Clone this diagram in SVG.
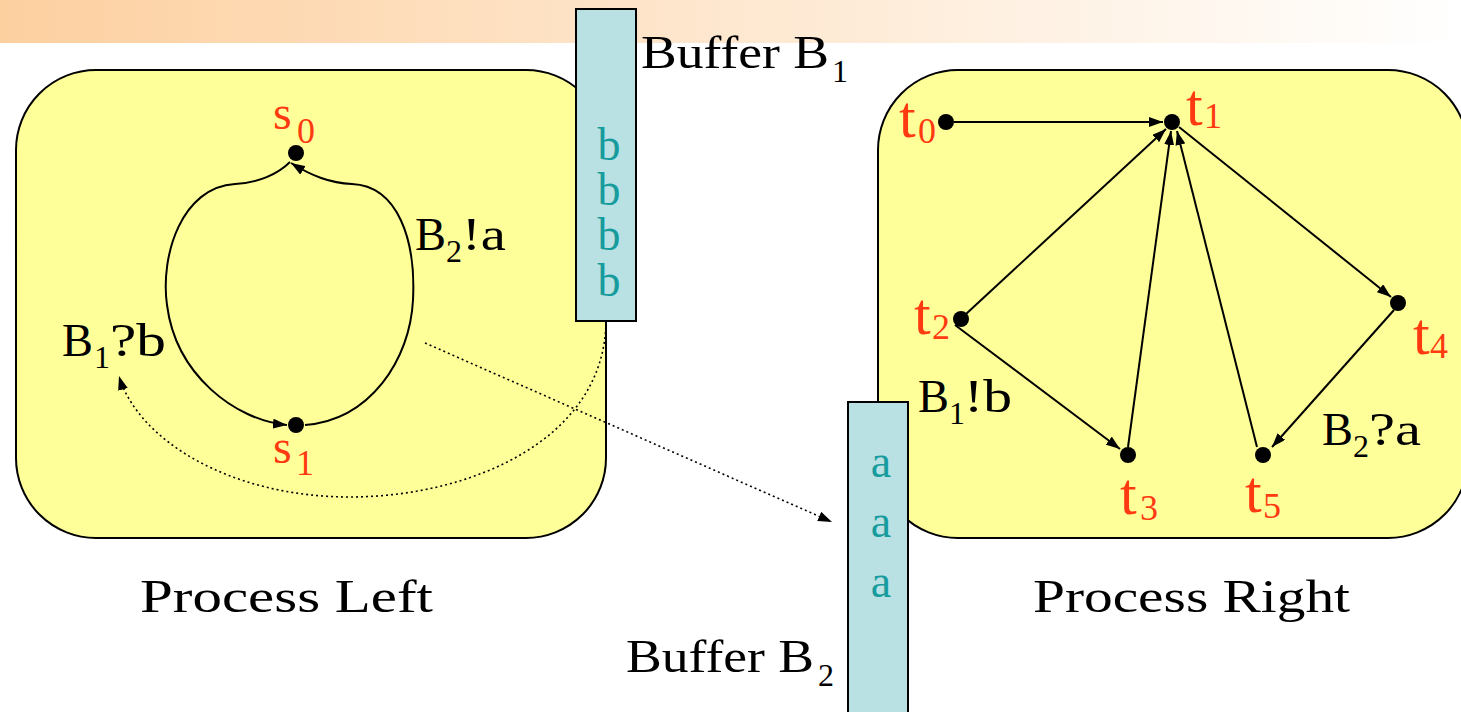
<svg xmlns="http://www.w3.org/2000/svg" width="1461" height="712" viewBox="0 0 1461 712">
<style>
.box{fill:#FFFF99;stroke:#000;stroke-width:2}
.buf{fill:#B9E0E3;stroke:#000;stroke-width:2}
.t{font-family:"Liberation Serif","DejaVu Serif",serif;font-size:46px;fill:#000}
.sub{font-size:32px}
.sl{font-family:"Liberation Serif","DejaVu Serif",serif;font-size:48px;fill:#FF3A10}
.tl{font-family:"Liberation Serif","DejaVu Serif",serif;font-size:60px;fill:#FF3A10}
.ssub{font-family:"Liberation Serif","DejaVu Serif",serif;font-size:36px;fill:#FF3A10}
.bt{font-family:"Liberation Serif","DejaVu Serif",serif;font-size:46px;fill:#169C9C;text-anchor:middle}
.dot{fill:#000}
.e{fill:none;stroke:#000;stroke-width:2;marker-end:url(#ah)}
.d{fill:none;stroke:#000;stroke-width:1.6;stroke-dasharray:2 3;marker-end:url(#ah)}
</style>
<defs>
<linearGradient id="bg" x1="0" y1="0" x2="1" y2="0">
<stop offset="0" stop-color="#FDD0A0"/>
<stop offset="1" stop-color="#FFFFFF"/>
</linearGradient>
<marker id="ah" viewBox="0 0 14 10" refX="14" refY="5" markerWidth="14" markerHeight="10" markerUnits="userSpaceOnUse" orient="auto">
<path d="M0,0 L14,5 L0,10 Z" fill="#000"/>
</marker>
</defs>
<rect x="0" y="0" width="1461" height="43" fill="url(#bg)"/>
<g id="processLeft">
<rect class="box" x="16" y="70" width="590" height="468" rx="80" ry="80"/>
<text class="t" x="140" y="612" textLength="293" lengthAdjust="spacingAndGlyphs">Process Left</text>
</g>
<g id="processRight">
<rect class="box" x="878" y="70" width="590" height="468" rx="80" ry="80"/>
<text class="t" x="1033" y="612" textLength="317" lengthAdjust="spacingAndGlyphs">Process Right</text>
</g>
<g id="bufferB1">
<rect class="buf" x="576" y="9" width="60" height="312"/>
<text class="bt" x="609" y="160">b</text>
<text class="bt" x="609" y="205">b</text>
<text class="bt" x="609" y="250">b</text>
<text class="bt" x="609" y="296">b</text>
<text class="t" x="641" y="68" textLength="188" lengthAdjust="spacingAndGlyphs">Buffer B</text>
<text class="t sub" x="832" y="82">1</text>
</g>
<g id="bufferB2">
<rect class="buf" x="848" y="402" width="60" height="320"/>
<text class="bt" x="881" y="477">a</text>
<text class="bt" x="881" y="537">a</text>
<text class="bt" x="881" y="597">a</text>
<text class="t" x="626" y="672" textLength="188" lengthAdjust="spacingAndGlyphs">Buffer B</text>
<text class="t sub" x="818" y="686">2</text>
</g>
<g id="s0"><circle class="dot" cx="296" cy="153" r="8"/><text class="sl" x="273" y="129">s</text><text class="ssub" x="297" y="143">0</text></g>
<g id="s1"><circle class="dot" cx="296" cy="425" r="8"/><text class="sl" x="273" y="463">s</text><text class="ssub" x="296" y="475">1</text></g>
<g id="t0"><circle class="dot" cx="946" cy="122" r="8"/><text class="tl" x="899" y="137">t</text><text class="ssub" x="918" y="143">0</text></g>
<g id="t1"><circle class="dot" cx="1172" cy="122" r="8"/><text class="tl" x="1186" y="125">t</text><text class="ssub" x="1204" y="128">1</text></g>
<g id="t2"><circle class="dot" cx="961" cy="319" r="8"/><text class="tl" x="914" y="334">t</text><text class="ssub" x="932" y="339">2</text></g>
<g id="t3"><circle class="dot" cx="1128" cy="455" r="8"/><text class="tl" x="1120" y="514">t</text><text class="ssub" x="1140" y="520">3</text></g>
<g id="t4"><circle class="dot" cx="1398" cy="303" r="8"/><text class="tl" x="1413" y="354">t</text><text class="ssub" x="1430" y="358">4</text></g>
<g id="t5"><circle class="dot" cx="1263" cy="455" r="8"/><text class="tl" x="1245" y="512">t</text><text class="ssub" x="1263" y="518">5</text></g>
<g id="connectors">
<path class="e" d="M290 162 C278 174 258 183 235 184 C182 187 160 255 167 305 C176 375 235 420 287 425"/>
<path class="e" d="M305 425 C370 420 410 360 413 300 C416 240 398 186 352 184 C330 183 312 176 291 163"/>
<path class="d" d="M606 322 C604 440 470 497 350 497 C230 497 138 440 119 376"/>
<path class="d" d="M425 343 L832 522"/>
<path class="e" d="M954 122 L1163 122"/>
<path class="e" d="M966 314 L1166 129"/>
<path class="e" d="M1128 447 L1171 131"/>
<path class="e" d="M1257 447 L1177 131"/>
<path class="e" d="M1179 127 L1391 297"/>
<path class="e" d="M1394 310 L1272 447"/>
<path class="e" d="M955 325 L1120 449"/>
</g>
<g id="labels">
<text class="t" x="415" y="250" textLength="31" lengthAdjust="spacingAndGlyphs">B</text><text class="t sub" x="446" y="262">2</text><text class="t" x="462" y="250" textLength="44" lengthAdjust="spacingAndGlyphs">!a</text>
<text class="t" x="62" y="356" textLength="31" lengthAdjust="spacingAndGlyphs">B</text><text class="t sub" x="94" y="368">1</text><text class="t" x="110" y="356" textLength="56" lengthAdjust="spacingAndGlyphs">?b</text>
<text class="t" x="918" y="412" textLength="31" lengthAdjust="spacingAndGlyphs">B</text><text class="t sub" x="949" y="424">1</text><text class="t" x="964" y="412" textLength="48" lengthAdjust="spacingAndGlyphs">!b</text>
<text class="t" x="1322" y="445" textLength="31" lengthAdjust="spacingAndGlyphs">B</text><text class="t sub" x="1353" y="457">2</text><text class="t" x="1369" y="445" textLength="52" lengthAdjust="spacingAndGlyphs">?a</text>
</g>
</svg>
